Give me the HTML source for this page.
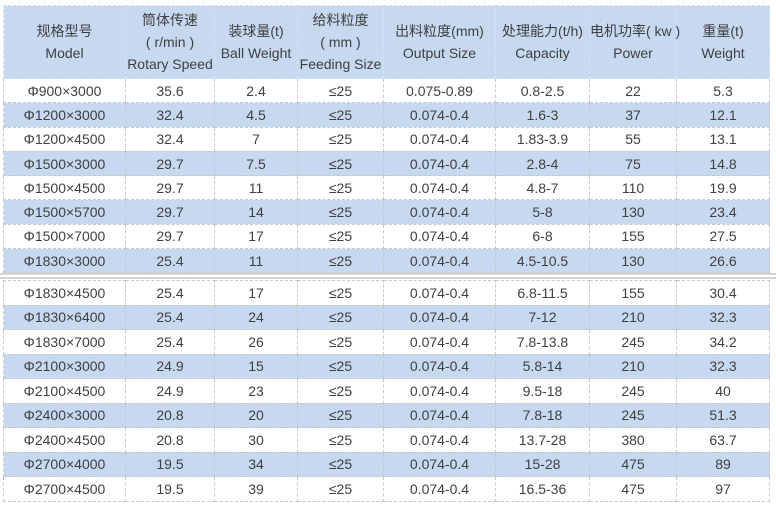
<!DOCTYPE html><html><head><meta charset="utf-8"><style>
body{margin:0;width:776px;height:511px;background:#fff;position:relative;font-family:"Liberation Sans","Noto Sans CJK SC",sans-serif;color:#404040;font-size:14px;overflow:hidden}
table{position:absolute;left:3px;border-collapse:collapse;table-layout:fixed;width:766px}
td{border:1px dashed #c8c8c8;text-align:center;padding:0;white-space:nowrap;overflow:visible}
.h td{background:#c6d9f0;line-height:22px;border-color:#d8e2ee}
.b{background:#c6d9f0}
#t1{top:5px}#t2{top:280px}
#t1 tr.r td{height:23.3px}
#t2 tr td{height:23.5px}
.sep{position:absolute;left:0;width:776px;height:2px;background:#d4d4d4}
</style></head><body>
<table id="t1"><colgroup><col style="width:122px"><col style="width:89px"><col style="width:83px"><col style="width:86px"><col style="width:112px"><col style="width:94px"><col style="width:87px"><col style="width:93px"></colgroup>
<tr class="h"><td style="height:72px">规格型号<br>Model</td><td>筒体传速<br>( r/min )<br>Rotary Speed</td><td>装球量(t)<br>Ball Weight</td><td>给料粒度<br>( mm )<br>Feeding Size</td><td>出料粒度(mm)<br>Output Size</td><td>处理能力(t/h)<br>Capacity</td><td>电机功率( kw )<br>Power</td><td>重量(t)<br>Weight</td></tr>
<tr class="r"><td>Φ900×3000</td><td>35.6</td><td>2.4</td><td>≤25</td><td>0.075-0.89</td><td>0.8-2.5</td><td>22</td><td>5.3</td></tr>
<tr class="r b"><td>Φ1200×3000</td><td>32.4</td><td>4.5</td><td>≤25</td><td>0.074-0.4</td><td>1.6-3</td><td>37</td><td>12.1</td></tr>
<tr class="r"><td>Φ1200×4500</td><td>32.4</td><td>7</td><td>≤25</td><td>0.074-0.4</td><td>1.83-3.9</td><td>55</td><td>13.1</td></tr>
<tr class="r b"><td>Φ1500×3000</td><td>29.7</td><td>7.5</td><td>≤25</td><td>0.074-0.4</td><td>2.8-4</td><td>75</td><td>14.8</td></tr>
<tr class="r"><td>Φ1500×4500</td><td>29.7</td><td>11</td><td>≤25</td><td>0.074-0.4</td><td>4.8-7</td><td>110</td><td>19.9</td></tr>
<tr class="r b"><td>Φ1500×5700</td><td>29.7</td><td>14</td><td>≤25</td><td>0.074-0.4</td><td>5-8</td><td>130</td><td>23.4</td></tr>
<tr class="r"><td>Φ1500×7000</td><td>29.7</td><td>17</td><td>≤25</td><td>0.074-0.4</td><td>6-8</td><td>155</td><td>27.5</td></tr>
<tr class="r b"><td>Φ1830×3000</td><td>25.4</td><td>11</td><td>≤25</td><td>0.074-0.4</td><td>4.5-10.5</td><td>130</td><td>26.6</td></tr>
</table>
<div class="sep" style="top:273px"></div><div class="sep" style="top:277px"></div>
<table id="t2"><colgroup><col style="width:122px"><col style="width:89px"><col style="width:83px"><col style="width:86px"><col style="width:112px"><col style="width:94px"><col style="width:87px"><col style="width:93px"></colgroup>
<tr><td>Φ1830×4500</td><td>25.4</td><td>17</td><td>≤25</td><td>0.074-0.4</td><td>6.8-11.5</td><td>155</td><td>30.4</td></tr>
<tr class="b"><td>Φ1830×6400</td><td>25.4</td><td>24</td><td>≤25</td><td>0.074-0.4</td><td>7-12</td><td>210</td><td>32.3</td></tr>
<tr><td>Φ1830×7000</td><td>25.4</td><td>26</td><td>≤25</td><td>0.074-0.4</td><td>7.8-13.8</td><td>245</td><td>34.2</td></tr>
<tr class="b"><td>Φ2100×3000</td><td>24.9</td><td>15</td><td>≤25</td><td>0.074-0.4</td><td>5.8-14</td><td>210</td><td>32.3</td></tr>
<tr><td>Φ2100×4500</td><td>24.9</td><td>23</td><td>≤25</td><td>0.074-0.4</td><td>9.5-18</td><td>245</td><td>40</td></tr>
<tr class="b"><td>Φ2400×3000</td><td>20.8</td><td>20</td><td>≤25</td><td>0.074-0.4</td><td>7.8-18</td><td>245</td><td>51.3</td></tr>
<tr><td>Φ2400×4500</td><td>20.8</td><td>30</td><td>≤25</td><td>0.074-0.4</td><td>13.7-28</td><td>380</td><td>63.7</td></tr>
<tr class="b"><td>Φ2700×4000</td><td>19.5</td><td>34</td><td>≤25</td><td>0.074-0.4</td><td>15-28</td><td>475</td><td>89</td></tr>
<tr><td>Φ2700×4500</td><td>19.5</td><td>39</td><td>≤25</td><td>0.074-0.4</td><td>16.5-36</td><td>475</td><td>97</td></tr>
</table>
</body></html>
